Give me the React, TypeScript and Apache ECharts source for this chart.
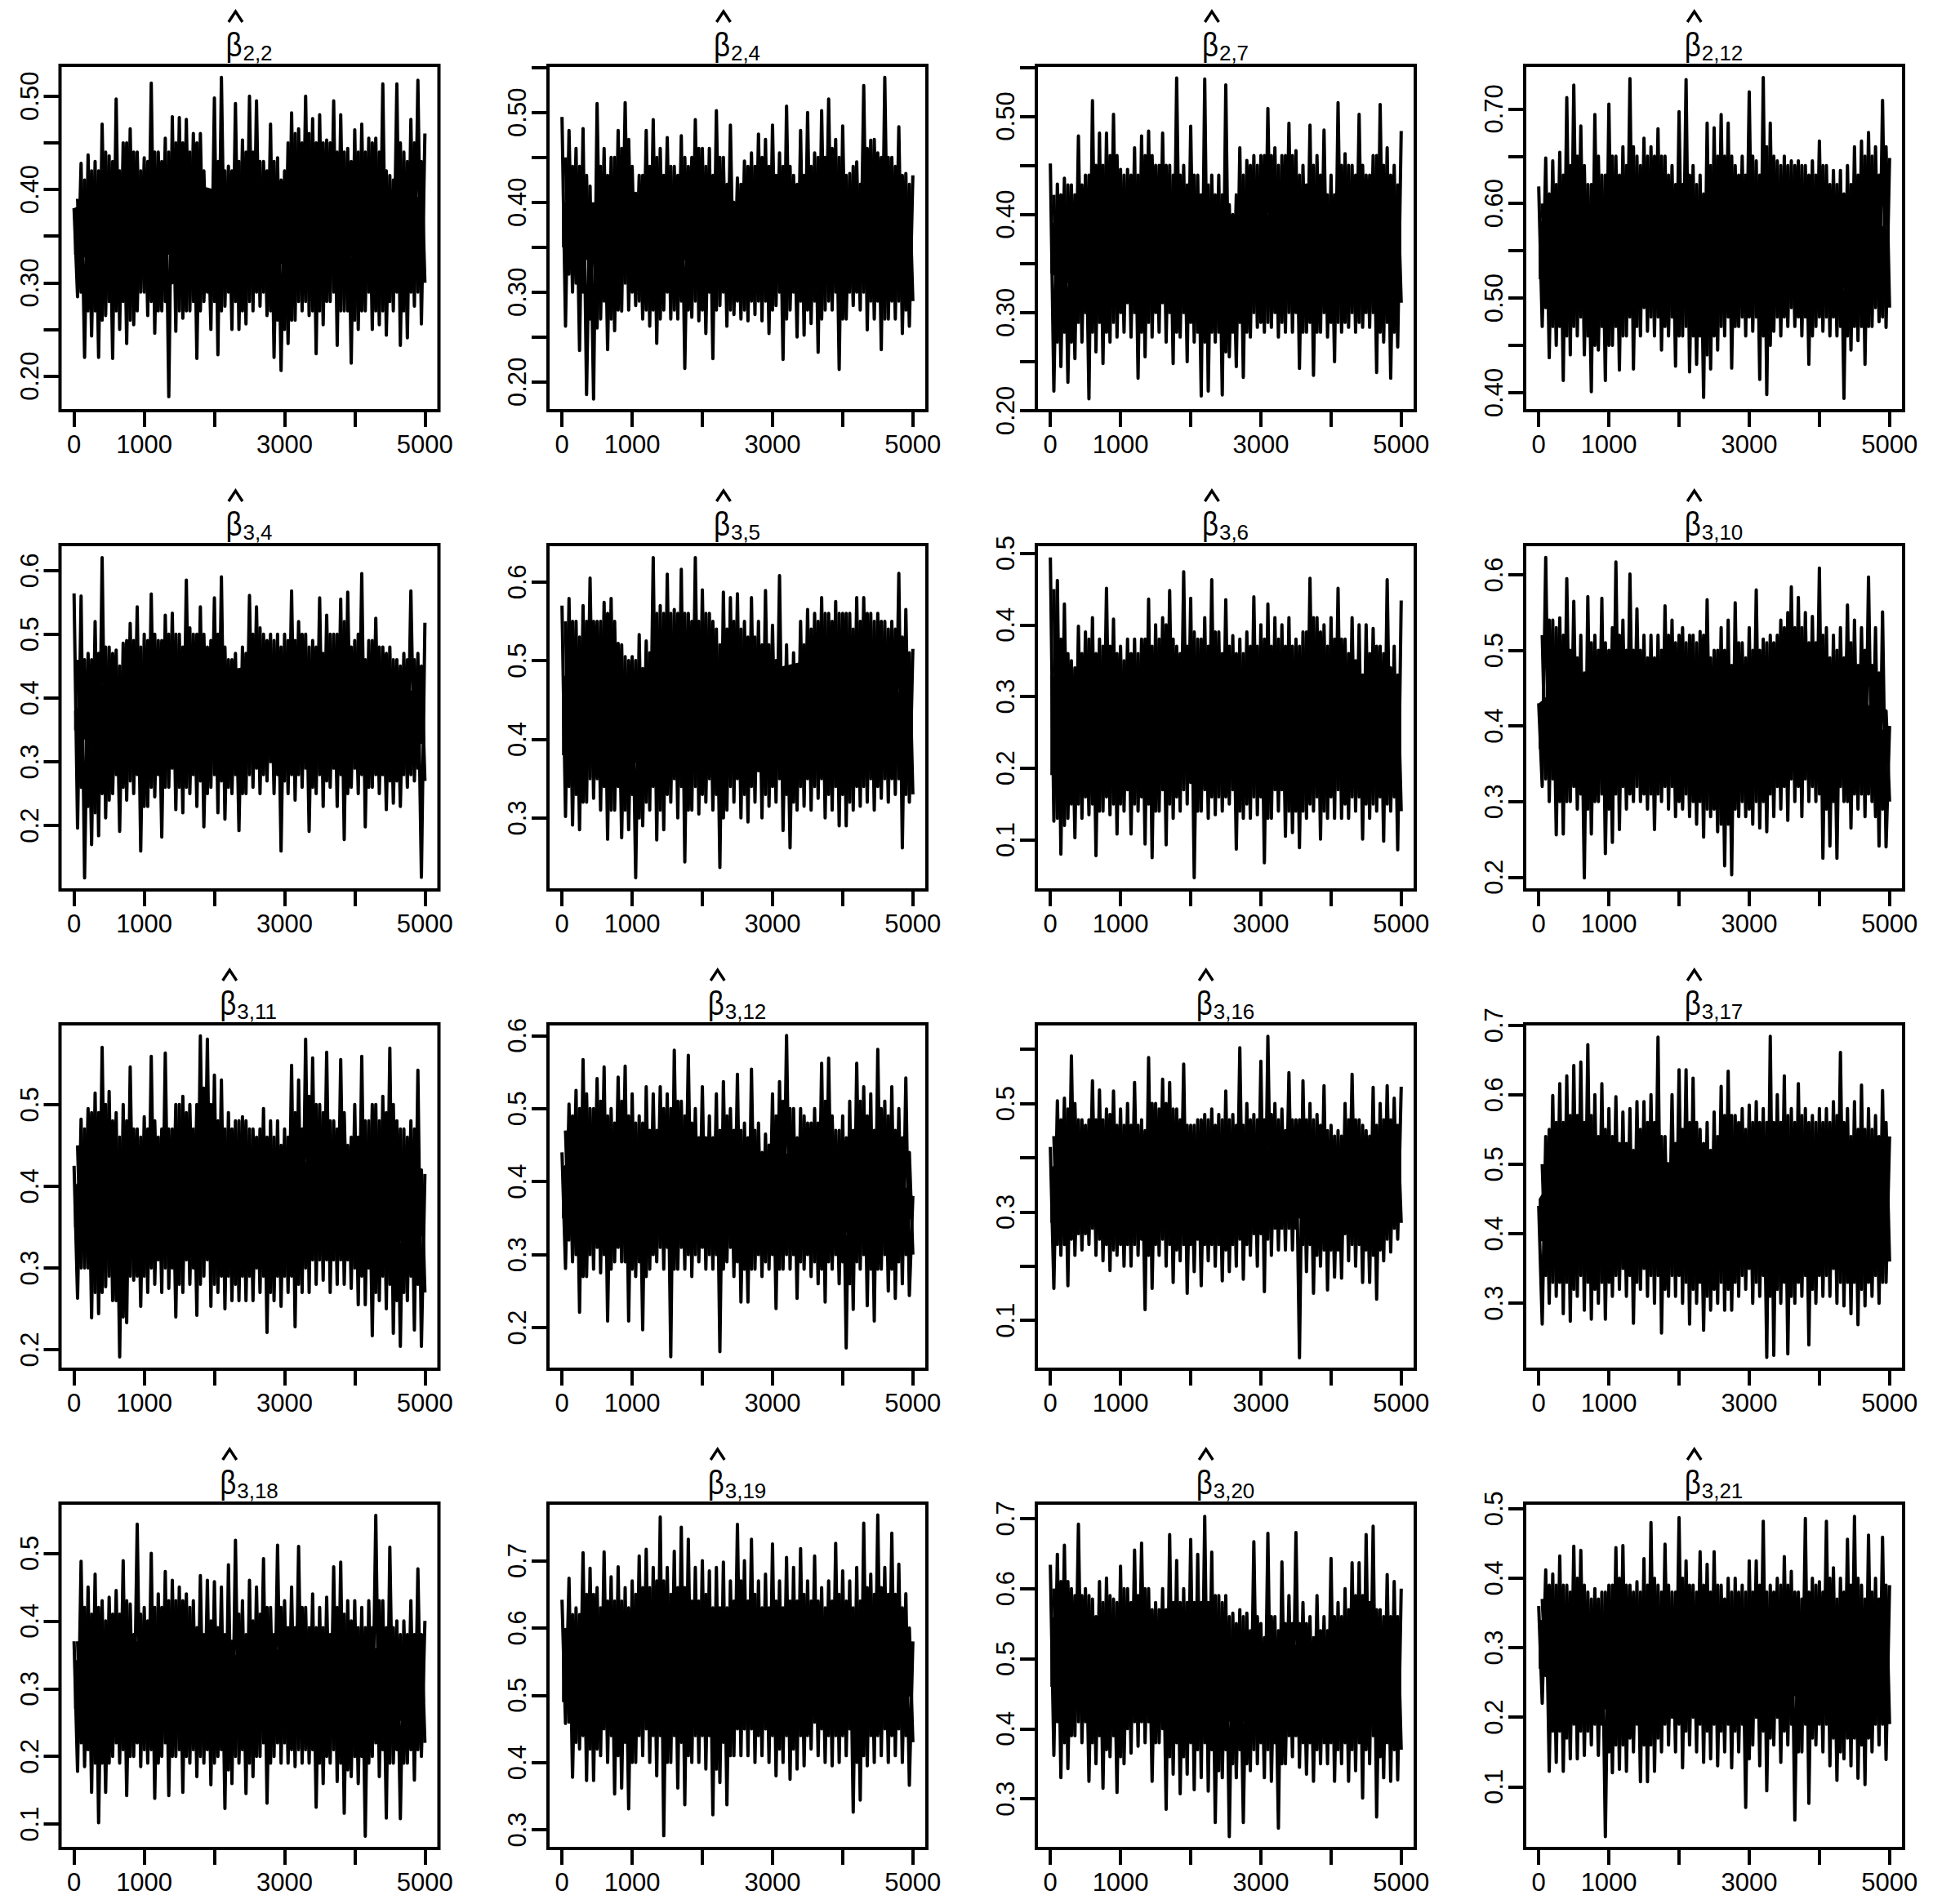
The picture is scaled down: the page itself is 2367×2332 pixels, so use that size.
import React, { useEffect, useRef } from "react";
import * as echarts from "echarts";

const FONT = '"Liberation Sans", Arial, sans-serif';
const xTicks = [0, 1000, 2000, 3000, 4000, 5000];
const xLabels = [0, 1000, 3000, 5000];
const coreX = [0, 500, 1000, 1500, 2000, 2500, 3000, 3500, 4000, 4500, 5000];

const subs = ["2,2","2,4","2,7","2,12","3,4","3,5","3,6","3,10","3,11","3,12","3,16","3,17","3,18","3,19","3,20","3,21"];

const yRanges = [[0.163,0.533],[0.168,0.5525],[0.2,0.552],[0.381,0.746],[0.099,0.6406],[0.2085,0.6475],[0.03,0.512],[0.183,0.64],[0.176,0.5988],[0.143,0.616],[0.01,0.647],[0.205,0.702],[0.064,0.574],[0.272,0.7857],[0.229,0.722],[0.011,0.508]];
const yTicks = [
  [0.2,0.25,0.3,0.35,0.4,0.45,0.5],[0.2,0.25,0.3,0.35,0.4,0.45,0.5,0.55],[0.2,0.25,0.3,0.35,0.4,0.45,0.5,0.55],[0.4,0.45,0.5,0.55,0.6,0.65,0.7],
  [0.2,0.3,0.4,0.5,0.6],[0.3,0.4,0.5,0.6],[0.1,0.2,0.3,0.4,0.5],[0.2,0.3,0.4,0.5,0.6],
  [0.2,0.3,0.4,0.5],[0.2,0.3,0.4,0.5,0.6],[0.1,0.2,0.3,0.4,0.5,0.6],[0.3,0.4,0.5,0.6,0.7],
  [0.1,0.2,0.3,0.4,0.5],[0.3,0.4,0.5,0.6,0.7],[0.3,0.4,0.5,0.6,0.7],[0.1,0.2,0.3,0.4,0.5],
];
const yLabels = [
  [0.2,0.3,0.4,0.5],[0.2,0.3,0.4,0.5],[0.2,0.3,0.4,0.5],[0.4,0.5,0.6,0.7],
  [0.2,0.3,0.4,0.5,0.6],[0.3,0.4,0.5,0.6],[0.1,0.2,0.3,0.4,0.5],[0.2,0.3,0.4,0.5,0.6],
  [0.2,0.3,0.4,0.5],[0.2,0.3,0.4,0.5,0.6],[0.1,0.3,0.5],[0.3,0.4,0.5,0.6,0.7],
  [0.1,0.2,0.3,0.4,0.5],[0.3,0.4,0.5,0.6,0.7],[0.3,0.4,0.5,0.6,0.7],[0.1,0.2,0.3,0.4,0.5],
];

// Tall spikes: peak read every 100 iterations, trough read every 100 iterations
const hiA=[.38,.428,.437,.43,.47,.436,.497,.45,.465,.44,.434,.514,.44,.455,.478,.477,.475,.46,.46,.40,.498,.52,.425,.492,.453,.50,.495,.43,.47,.434,.42,.482,.465,.50,.476,.48,.453,.495,.48,.444,.464,.47,.455,.455,.513,.415,.513,.44,.475,.517,.46];
const loA=[.285,.22,.243,.22,.265,.219,.25,.235,.255,.29,.265,.246,.27,.178,.248,.262,.27,.219,.28,.25,.223,.275,.25,.25,.256,.27,.275,.265,.22,.206,.235,.26,.27,.265,.224,.255,.28,.233,.27,.214,.25,.27,.25,.255,.244,.27,.233,.241,.275,.256];
const hiB=[.495,.48,.46,.482,.418,.51,.46,.45,.48,.511,.44,.43,.48,.492,.46,.472,.44,.474,.44,.492,.46,.46,.502,.45,.486,.427,.446,.455,.476,.47,.486,.455,.507,.43,.48,.50,.455,.502,.515,.47,.485,.432,.445,.53,.469,.455,.539,.45,.484,.432,.43];
const loB=[.262,.30,.235,.186,.181,.27,.236,.257,.279,.28,.285,.27,.262,.243,.28,.27,.27,.215,.272,.268,.254,.226,.285,.262,.275,.27,.268,.275,.268,.254,.285,.225,.28,.25,.252,.265,.233,.28,.28,.214,.27,.285,.28,.258,.27,.236,.27,.27,.254,.262];
const hiC=[.452,.431,.437,.43,.48,.44,.516,.483,.483,.502,.446,.446,.468,.48,.485,.45,.483,.45,.539,.45,.49,.44,.538,.44,.44,.532,.40,.468,.455,.46,.46,.508,.468,.46,.493,.465,.45,.491,.46,.486,.44,.514,.462,.45,.502,.44,.46,.512,.468,.45,.485];
const loC=[.22,.245,.229,.253,.27,.212,.26,.248,.27,.275,.28,.275,.233,.255,.275,.28,.27,.248,.275,.25,.27,.215,.22,.27,.216,.255,.245,.234,.275,.285,.28,.285,.275,.28,.28,.243,.28,.236,.28,.275,.25,.28,.285,.28,.285,.285,.239,.27,.233,.265];
const hiD=[.618,.648,.645,.654,.712,.725,.682,.62,.694,.63,.705,.65,.66,.732,.65,.669,.66,.679,.65,.64,.697,.731,.64,.63,.685,.68,.694,.685,.64,.65,.718,.645,.733,.685,.645,.65,.645,.645,.64,.645,.666,.64,.635,.635,.64,.66,.666,.675,.66,.709,.648];
const loD=[.47,.437,.45,.413,.44,.46,.44,.401,.445,.413,.45,.424,.46,.425,.46,.465,.46,.445,.46,.428,.46,.422,.43,.395,.425,.445,.46,.426,.47,.46,.465,.414,.398,.465,.46,.47,.47,.46,.43,.47,.465,.46,.46,.394,.445,.455,.43,.47,.475,.469];
const hiE=[.564,.56,.47,.52,.62,.48,.475,.486,.517,.543,.50,.563,.49,.53,.533,.50,.585,.50,.543,.48,.557,.59,.46,.47,.48,.561,.543,.50,.50,.50,.50,.568,.52,.50,.49,.557,.53,.50,.555,.566,.49,.595,.49,.525,.48,.48,.46,.47,.568,.47,.518];
const loE=[.196,.118,.17,.184,.212,.25,.191,.24,.25,.16,.23,.245,.182,.26,.225,.22,.25,.23,.198,.26,.22,.21,.25,.192,.25,.26,.25,.27,.25,.16,.25,.24,.26,.191,.25,.23,.26,.23,.178,.26,.25,.198,.26,.25,.225,.235,.23,.26,.27,.119];
const hiF=[.57,.579,.55,.57,.605,.55,.574,.579,.522,.505,.505,.533,.525,.631,.57,.61,.565,.616,.56,.631,.59,.56,.54,.587,.58,.585,.55,.58,.55,.589,.545,.608,.52,.51,.55,.565,.56,.58,.56,.575,.56,.56,.58,.58,.56,.56,.55,.55,.611,.565,.515];
const loF=[.302,.291,.285,.32,.325,.31,.273,.31,.275,.285,.224,.29,.31,.272,.285,.32,.30,.244,.31,.305,.32,.31,.237,.31,.32,.30,.295,.32,.30,.315,.32,.284,.262,.31,.315,.31,.325,.30,.31,.29,.29,.31,.315,.32,.31,.325,.32,.33,.262,.32];
const hiG=[.494,.462,.429,.35,.398,.39,.41,.38,.451,.408,.37,.38,.38,.38,.436,.40,.41,.448,.37,.474,.437,.38,.41,.463,.39,.435,.385,.38,.39,.439,.40,.429,.41,.40,.41,.38,.39,.465,.41,.40,.41,.451,.38,.41,.40,.40,.395,.37,.463,.37,.434];
const loG=[.126,.08,.13,.103,.13,.135,.078,.14,.135,.108,.14,.108,.14,.094,.075,.14,.093,.13,.14,.15,.047,.14,.13,.135,.14,.15,.087,.13,.13,.135,.068,.13,.14,.105,.11,.089,.13,.14,.101,.13,.13,.13,.13,.14,.101,.13,.14,.098,.14,.086];
const hiH=[.43,.623,.54,.543,.595,.565,.52,.571,.52,.569,.50,.617,.54,.601,.555,.52,.52,.52,.559,.54,.52,.51,.52,.525,.567,.50,.53,.54,.563,.51,.53,.58,.515,.52,.52,.53,.584,.57,.55,.545,.609,.53,.52,.53,.56,.54,.53,.597,.53,.551,.40];
const loH=[.32,.30,.256,.257,.30,.29,.199,.257,.30,.231,.246,.263,.29,.30,.30,.29,.263,.30,.29,.28,.29,.28,.27,.253,.28,.26,.215,.203,.28,.28,.27,.265,.26,.28,.29,.275,.30,.28,.30,.30,.225,.241,.225,.30,.265,.29,.28,.30,.241,.24];
const hiI=[.425,.482,.495,.514,.57,.516,.49,.50,.546,.47,.485,.559,.46,.563,.47,.50,.49,.47,.584,.58,.536,.53,.49,.48,.485,.47,.46,.495,.48,.48,.47,.548,.53,.58,.557,.50,.564,.48,.555,.45,.50,.559,.48,.50,.51,.569,.48,.47,.48,.542,.415];
const loI=[.263,.30,.239,.244,.277,.26,.191,.233,.285,.253,.27,.28,.27,.275,.24,.27,.28,.242,.29,.253,.27,.25,.26,.26,.26,.26,.27,.221,.26,.253,.27,.228,.27,.27,.28,.285,.27,.28,.28,.275,.255,.255,.217,.26,.25,.22,.204,.26,.224,.204];
const hiJ=[.44,.506,.525,.567,.50,.541,.557,.50,.543,.558,.52,.49,.53,.52,.53,.52,.58,.51,.573,.50,.53,.49,.52,.537,.50,.547,.48,.554,.48,.465,.52,.537,.6,.50,.50,.48,.50,.562,.569,.47,.49,.51,.562,.53,.52,.581,.51,.53,.50,.542,.38];
const loJ=[.281,.29,.221,.27,.28,.275,.209,.29,.29,.209,.27,.197,.28,.29,.28,.16,.28,.28,.27,.29,.28,.28,.167,.29,.27,.235,.235,.28,.27,.28,.226,.28,.28,.24,.28,.27,.26,.235,.28,.26,.172,.225,.28,.23,.209,.28,.25,.24,.26,.244];
const hiK=[.42,.505,.51,.588,.47,.46,.542,.525,.49,.523,.49,.50,.539,.47,.585,.50,.545,.539,.49,.573,.46,.47,.48,.49,.48,.523,.48,.603,.50,.48,.578,.624,.50,.49,.557,.47,.542,.50,.48,.533,.46,.45,.50,.554,.47,.45,.53,.50,.533,.51,.531];
const loK=[.159,.22,.164,.22,.23,.24,.22,.21,.192,.22,.20,.20,.22,.12,.159,.22,.20,.17,.21,.15,.19,.164,.21,.20,.173,.19,.20,.176,.22,.20,.153,.22,.23,.23,.23,.031,.19,.15,.20,.156,.18,.178,.21,.20,.17,.17,.139,.21,.226,.25];
const hiL=[.44,.54,.599,.616,.627,.642,.647,.672,.60,.616,.58,.597,.575,.58,.59,.59,.60,.683,.54,.60,.636,.636,.624,.55,.56,.575,.612,.634,.57,.58,.585,.59,.58,.684,.60,.627,.58,.616,.58,.57,.58,.58,.59,.661,.58,.59,.614,.58,.57,.606,.54];
const loL=[.27,.30,.31,.285,.274,.31,.29,.277,.30,.277,.31,.32,.31,.271,.32,.31,.30,.257,.31,.31,.30,.27,.30,.261,.29,.30,.29,.29,.31,.32,.30,.31,.222,.225,.30,.227,.30,.31,.24,.30,.31,.31,.30,.296,.285,.269,.296,.31,.30,.33];
const hiM=[.37,.488,.45,.469,.43,.435,.445,.489,.425,.543,.42,.50,.44,.473,.46,.45,.44,.43,.467,.46,.458,.45,.483,.519,.43,.46,.45,.492,.42,.512,.43,.45,.51,.42,.44,.42,.435,.48,.487,.43,.43,.42,.43,.556,.43,.509,.40,.40,.43,.477,.40];
const loM=[.178,.185,.147,.102,.147,.20,.19,.142,.20,.185,.19,.138,.20,.142,.20,.147,.19,.17,.19,.158,.20,.123,.16,.19,.145,.17,.20,.131,.20,.19,.19,.185,.19,.19,.125,.16,.19,.163,.116,.17,.16,.082,.20,.17,.109,.19,.108,.19,.165,.20];
const hiN=[.642,.674,.63,.712,.689,.66,.713,.676,.691,.66,.67,.707,.717,.69,.765,.69,.714,.75,.732,.69,.70,.685,.69,.698,.67,.754,.70,.732,.67,.68,.725,.67,.705,.69,.718,.67,.707,.66,.67,.726,.685,.67,.69,.756,.68,.768,.69,.741,.695,.651,.58];
const loN=[.458,.378,.42,.373,.373,.41,.40,.353,.362,.331,.40,.41,.40,.38,.291,.40,.362,.337,.40,.40,.39,.322,.37,.337,.41,.41,.41,.40,.41,.40,.38,.40,.375,.39,.395,.42,.41,.40,.395,.40,.41,.326,.344,.395,.40,.41,.40,.41,.40,.366];
const hiO=[.634,.649,.662,.60,.692,.60,.585,.61,.615,.585,.632,.60,.655,.665,.60,.58,.60,.677,.64,.60,.67,.649,.703,.652,.59,.59,.565,.57,.565,.667,.55,.679,.56,.638,.59,.68,.58,.56,.59,.56,.643,.58,.60,.637,.637,.677,.689,.57,.62,.61,.60];
const loO=[.362,.33,.343,.39,.38,.325,.35,.315,.36,.309,.35,.365,.375,.38,.325,.38,.285,.335,.307,.335,.313,.33,.311,.266,.33,.246,.33,.266,.34,.35,.33,.325,.258,.35,.36,.345,.335,.325,.35,.35,.325,.35,.325,.34,.301,.35,.274,.33,.325,.327];
const hiP=[.36,.412,.406,.432,.39,.446,.44,.38,.385,.38,.39,.444,.447,.39,.395,.428,.48,.39,.449,.38,.487,.425,.39,.438,.42,.438,.39,.40,.40,.39,.425,.425,.482,.39,.40,.431,.41,.38,.486,.40,.395,.482,.415,.40,.456,.489,.39,.462,.40,.459,.39];
const loP=[.22,.122,.135,.122,.14,.14,.145,.16,.145,.028,.12,.125,.122,.15,.107,.107,.122,.15,.16,.15,.127,.16,.15,.135,.14,.13,.15,.127,.15,.07,.16,.13,.094,.16,.135,.16,.052,.15,.076,.16,.15,.13,.109,.14,.13,.112,.103,.15,.16,.139];

// Edge of the dense band between spikes (hundredths), read every 100 iterations
const mhA=[39,41,42,42,44,43,42,45,44,42,43,44,43,44,45,45,44,45,42,39,43,42,42,43,44,44,43,42,43,41,45,46,45,46,45,45,45,44,44,43,44,44,45,44,42,41,45,43,45,43];
const mlA=[29,27,27,26,28,27,28,26,27,29,28,27,28,30,27,27,28,27,29,28,27,29,28,27,28,29,29,27,26,25,26,28,28,27,27,28,29,27,27,26,27,29,27,27,28,29,27,29,29,30];
const mhB=[45,44,44,43,39,44,43,45,46,47,41,43,44,45,43,44,43,45,45,46,44,43,45,42,40,42,44,44,45,44,43,44,44,42,43,44,45,45,46,45,43,44,42,46,47,45,45,44,43,42];
const mlB=[32,31,30,27,26,29,27,28,31,30,29,28,28,27,30,28,29,28,29,28,30,28,30,28,29,28,29,29,29,28,30,27,30,29,28,29,27,29,30,27,30,30,30,29,29,27,29,29,28,29];
const mhC=[42,42,43,42,43,44,45,45,46,46,44,44,44,46,46,45,45,44,44,43,44,42,43,42,42,41,42,44,45,45,46,46,45,46,46,44,43,45,44,42,42,45,45,44,45,44,46,45,44,43];
const mlC=[27,28,27,29,30,28,29,28,29,30,31,30,28,29,30,31,30,28,30,29,28,27,28,28,26,28,29,28,30,29,29,30,29,30,30,28,29,28,30,29,29,29,30,29,30,30,28,29,28,31];
const mhD=[60,61,62,63,64,65,64,62,65,63,65,63,64,66,64,65,65,65,63,62,62,63,62,61,64,65,65,65,63,63,65,63,66,65,64,64,64,64,63,63,64,62,62,61,62,63,65,65,63,66];
const mlD=[49,47,47,46,47,48,46,45,47,45,47,46,48,47,49,48,48,47,48,46,47,46,46,44,46,47,48,47,48,48,48,46,45,48,48,49,48,48,46,48,48,48,47,46,47,47,47,49,48,49];
const mhE=[46,46,46,47,48,47,45,49,49,48,49,50,49,50,50,48,51,50,50,49,50,48,46,44,47,50,51,49,49,48,49,49,50,48,48,47,50,50,52,48,50,46,49,48,47,46,45,46,46,45];
const mlE=[26,23,22,25,24,28,26,27,28,23,26,28,26,29,26,26,28,27,25,28,27,26,28,25,28,29,28,30,28,27,28,28,29,26,28,27,29,28,25,29,28,26,28,28,27,27,28,28,29,27];
const mhF=[55,55,53,55,55,55,56,55,52,50,50,49,51,56,56,56,56,56,55,55,56,55,52,54,55,54,53,53,52,52,50,49,47,49,52,54,55,56,55,56,56,54,55,56,55,55,54,54,53,51];
const mlF=[34,33,32,35,35,34,31,34,31,33,30,32,34,31,33,35,34,31,34,33,35,33,30,34,35,33,34,36,33,34,35,33,32,34,35,34,35,33,34,33,32,34,34,35,34,35,35,35,33,33];
const mhG=[45,38,36,34,36,38,36,37,37,36,35,36,36,38,37,38,40,38,36,37,39,38,37,39,36,37,36,36,37,37,38,37,38,37,37,37,39,41,39,37,38,38,36,35,33,36,37,36,34,33];
const mlG=[13,12,15,15,16,15,14,16,15,15,17,15,16,15,14,17,15,16,17,18,14,17,16,16,16,17,14,15,16,16,13,17,17,14,14,14,15,16,14,16,17,15,16,16,15,15,16,15,16,14];
const mhH=[52,54,53,52,50,49,47,51,50,51,53,52,50,50,50,49,49,50,52,51,53,52,51,52,49,50,50,48,51,49,50,50,51,51,54,55,53,53,51,51,52,49,50,49,51,48,50,48,47,42];
const mlH=[33,33,30,30,32,31,29,30,31,29,31,32,31,32,31,31,31,32,32,30,31,30,30,29,29,27,27,29,30,29,30,30,31,32,32,33,32,33,32,31,29,30,32,30,31,31,31,28,29,30];
const mhI=[45,47,49,49,50,48,46,48,47,46,47,48,47,47,50,51,50,50,52,50,48,47,47,48,48,47,47,46,46,45,46,49,47,51,50,49,48,47,49,46,46,48,50,48,49,50,47,46,47,42];
const mlI=[30,30,27,27,29,26,24,29,29,29,30,31,30,30,28,31,30,28,31,28,29,29,28,29,29,30,29,27,29,29,29,28,30,31,31,31,31,31,31,30,29,30,27,29,28,26,27,29,28,27];
const mhJ=[47,49,50,52,50,51,49,48,51,49,48,48,47,47,50,50,51,49,48,46,46,46,47,49,47,47,46,47,44,45,49,51,50,46,49,48,48,51,49,47,46,47,51,49,47,50,49,47,46,44];
const mlJ=[32,30,27,30,31,30,28,31,29,28,29,27,30,31,31,28,31,30,30,31,30,30,28,31,29,28,28,30,29,30,28,30,30,29,30,29,28,29,30,29,26,29,30,28,28,30,28,29,30,30];
const mhK=[44,47,49,50,47,47,47,47,48,46,46,46,46,45,50,49,50,49,47,46,46,47,47,46,47,47,46,46,47,47,47,48,47,45,47,47,47,47,46,45,44,44,47,47,46,44,46,47,47,46];
const mlK=[24,24,25,26,26,27,25,24,23,24,24,24,25,22,24,25,24,23,24,24,25,24,24,24,23,24,25,24,26,26,25,27,27,27,27,24,24,22,23,23,23,26,24,24,23,22,23,25,27,28];
const mhL=[50,55,56,56,57,57,56,57,54,55,54,53,53,52,55,56,56,54,50,53,55,56,56,53,52,54,57,57,56,55,56,56,56,56,56,57,56,57,56,56,56,56,57,56,54,55,55,55,54,56];
const mlL=[34,33,33,33,32,34,33,32,33,33,34,35,34,33,35,34,34,32,34,34,33,32,33,31,32,33,32,33,34,35,33,34,31,32,33,31,33,34,32,34,34,35,33,33,33,32,33,34,33,36];
const mhM=[37,42,41,42,40,41,41,43,38,41,40,42,42,43,43,43,42,39,38,40,39,38,37,41,38,40,41,42,38,42,39,39,42,39,39,39,38,42,41,40,39,39,39,43,39,39,38,38,38,38];
const mlM=[22,21,19,19,19,22,21,20,22,21,21,19,22,20,21,20,21,20,21,19,21,18,20,21,19,20,22,19,22,22,21,21,21,21,19,20,21,19,18,20,20,19,22,21,19,21,19,21,21,22];
const mhN=[60,62,62,65,65,63,64,64,64,63,65,66,66,67,67,65,66,66,64,64,65,63,63,63,64,67,64,65,63,63,64,63,64,64,65,64,64,63,64,65,64,63,64,66,65,66,65,65,63,60];
const mlN=[46,43,44,42,42,45,44,41,43,40,44,45,44,44,40,44,43,41,44,44,44,39,43,41,45,45,45,44,45,44,42,44,42,44,44,46,45,44,44,44,45,40,41,44,44,45,44,45,44,43];
const mhO=[60,61,61,59,59,59,56,58,59,58,60,58,59,60,57,57,57,58,58,58,58,58,58,59,58,56,55,56,54,56,53,56,54,55,55,55,55,53,54,54,56,56,57,59,59,58,57,56,56,56];
const mlO=[41,38,39,41,41,38,39,37,39,36,40,41,41,41,38,40,36,38,36,38,37,38,37,34,37,35,37,35,37,38,37,38,35,39,39,38,38,37,38,38,37,38,37,38,37,39,36,38,37,37];
const mhP=[37,39,39,39,38,40,39,37,37,38,39,40,39,38,38,39,40,38,39,38,40,39,38,39,38,39,37,38,38,38,38,39,38,38,39,39,38,37,38,39,38,40,37,38,39,40,37,38,37,39];
const mlP=[26,18,18,17,19,18,18,19,19,15,16,16,17,19,16,16,17,19,20,19,18,20,19,18,19,18,19,18,19,14,20,18,17,20,18,19,15,19,17,19,19,17,15,17,17,16,17,19,19,19];

const highs = [hiA,hiB,hiC,hiD,hiE,hiF,hiG,hiH,hiI,hiJ,hiK,hiL,hiM,hiN,hiO,hiP];
const lows = [loA,loB,loC,loD,loE,loF,loG,loH,loI,loJ,loK,loL,loM,loN,loO,loP];
const midHighs = [mhA,mhB,mhC,mhD,mhE,mhF,mhG,mhH,mhI,mhJ,mhK,mhL,mhM,mhN,mhO,mhP];
const midLows = [mlA,mlB,mlC,mlD,mlE,mlF,mlG,mlH,mlI,mlJ,mlK,mlL,mlM,mlN,mlO,mlP];

// Solid middle of each trace, read every 500 iterations
const coreHigh = [
  [.38,.40,.41,.41,.40,.40,.41,.41,.40,.40,.39],[.40,.40,.41,.41,.41,.40,.40,.41,.41,.41,.39],[.39,.41,.42,.42,.41,.40,.40,.40,.41,.41,.39],[.58,.60,.60,.61,.60,.60,.61,.60,.60,.60,.57],
  [.38,.43,.44,.45,.44,.45,.45,.44,.44,.43,.40],[.48,.49,.48,.51,.50,.48,.49,.50,.50,.49,.44],[.33,.31,.32,.32,.32,.32,.32,.32,.32,.31,.30],[.43,.47,.47,.48,.47,.48,.48,.48,.47,.46,.38],
  [.40,.44,.43,.43,.44,.43,.43,.43,.43,.43,.39],[.42,.45,.45,.44,.44,.44,.43,.45,.44,.44,.38],[.38,.44,.42,.43,.43,.42,.42,.41,.41,.41,.41],[.45,.53,.52,.51,.50,.52,.52,.53,.53,.52,.50],
  [.34,.37,.37,.36,.35,.35,.36,.37,.36,.36,.34],[.58,.60,.61,.61,.61,.60,.60,.61,.61,.61,.55],[.56,.55,.54,.54,.54,.52,.52,.52,.53,.52,.51],[.34,.34,.33,.33,.34,.33,.33,.33,.34,.34,.32],
];
const coreLow = [
  [.33,.32,.33,.33,.32,.32,.32,.32,.33,.33,.34],[.35,.33,.33,.34,.33,.33,.33,.33,.33,.33,.33],[.34,.32,.33,.33,.33,.33,.33,.33,.33,.33,.34],[.52,.51,.51,.51,.51,.50,.51,.51,.51,.51,.52],
  [.35,.30,.30,.31,.31,.31,.31,.31,.31,.31,.33],[.38,.37,.37,.37,.37,.37,.37,.37,.37,.37,.38],[.19,.20,.20,.20,.21,.21,.20,.20,.20,.21,.22],[.37,.34,.34,.34,.34,.33,.33,.34,.34,.34,.35],
  [.35,.32,.33,.33,.33,.33,.33,.33,.33,.33,.34],[.35,.33,.33,.33,.33,.33,.33,.33,.33,.33,.35],[.28,.28,.29,.29,.29,.29,.29,.29,.27,.28,.31],[.39,.38,.38,.39,.39,.38,.39,.39,.39,.38,.40],
  [.27,.25,.25,.25,.25,.25,.25,.25,.24,.24,.28],[.49,.48,.48,.48,.48,.48,.48,.48,.48,.48,.50],[.46,.42,.42,.42,.42,.41,.41,.42,.42,.42,.42],[.27,.22,.21,.22,.22,.22,.22,.23,.23,.22,.24],
];

const colLefts = [73.5, 671, 1269, 1867];
const rowTops = [80, 667, 1254, 1841];
const gridW = 464;
const gridH = 423;
const SUB_SIZE = 26;
const BETA_SIZE = 40;

function trace(i: number) {
  const out: number[][] = [];
  highs[i].forEach((h, k) => {
    out.push([k * 100, h]);
    if (k < lows[i].length) out.push([k * 100 + 50, lows[i][k]]);
  });
  return out;
}

function band(i: number) {
  const out: number[][] = [];
  midHighs[i].forEach((h, k) => {
    out.push([k * 100 + 50, h / 100]);
    if (k < midLows[i].length) out.push([k * 100 + 100, midLows[i][k] / 100]);
  });
  return out;
}

function buildOption() {
  const grid: any[] = [], xAxis: any[] = [], yAxis: any[] = [], series: any[] = [], graphic: any[] = [];
  subs.forEach((sub, i) => {
    const left = colLefts[i % 4];
    const top = rowTops[Math.floor(i / 4)];
    grid.push({ left, top, width: gridW, height: gridH, show: true, borderColor: "#000", borderWidth: 4, backgroundColor: "#fff" });
    xAxis.push({
      gridIndex: i, type: "value", min: -200, max: 5200, position: "bottom",
      axisLine: { show: false, onZero: false }, splitLine: { show: false },
      axisTick: { show: true, length: 20, lineStyle: { color: "#000", width: 4 }, customValues: xTicks },
      axisLabel: { show: true, margin: 26, color: "#000", fontFamily: FONT, fontSize: 31, hideOverlap: false, customValues: xLabels, formatter: (v: number) => String(v) },
    });
    const dec = i < 4 ? 2 : 1;
    yAxis.push({
      gridIndex: i, type: "value", min: yRanges[i][0], max: yRanges[i][1], position: "left",
      axisLine: { show: false, onZero: false }, splitLine: { show: false },
      axisTick: { show: true, length: 20, lineStyle: { color: "#000", width: 4 }, customValues: yTicks[i] },
      axisLabel: { show: true, rotate: 90, margin: 22, color: "#000", fontFamily: FONT, fontSize: 31, hideOverlap: false, customValues: yLabels[i], formatter: (v: number) => v.toFixed(dec) },
    });
    series.push({
      type: "custom", xAxisIndex: i, yAxisIndex: i, silent: true, z: 2,
      data: [[0, coreLow[i][0]]],
      renderItem: (_p: any, api: any) => {
        const upper = coreX.map((x, k) => api.coord([x, coreHigh[i][k]]));
        const lower = coreX.map((x, k) => api.coord([x, coreLow[i][k]])).reverse();
        return { type: "polygon", shape: { points: upper.concat(lower) }, style: { fill: "#000" } };
      },
    });
    series.push({
      type: "line", xAxisIndex: i, yAxisIndex: i, data: band(i), symbol: "none", showSymbol: false, silent: true, z: 3,
      lineStyle: { color: "#000", width: 4, join: "round" },
    });
    series.push({
      type: "line", xAxisIndex: i, yAxisIndex: i, data: trace(i), symbol: "none", showSymbol: false, silent: true, z: 3,
      lineStyle: { color: "#000", width: 4, join: "round" },
    });

    const cx = left + gridW / 2;
    const betaW = 20;
    const subW = sub.split("").reduce((s, c) => s + (c === "," ? 0.278 : 0.556) * SUB_SIZE, 0);
    const startX = cx - (betaW + subW) / 2;
    const hatX = startX + betaW / 2 + 1;
    graphic.push({
      type: "polyline", silent: true,
      shape: { points: [[hatX - 8.5, top - 53], [hatX, top - 66], [hatX + 8.5, top - 53]] },
      style: { stroke: "#000", lineWidth: 3.4, fill: "none" },
    });
    graphic.push({ type: "text", x: startX - 1, y: top - 5, scaleX: 0.87, silent: true, style: { text: "β", font: `${BETA_SIZE}px ${FONT}`, fill: "#000", align: "left", verticalAlign: "bottom" } });
    graphic.push({ type: "text", x: startX + betaW, y: top - 2, silent: true, style: { text: sub, font: `${SUB_SIZE}px ${FONT}`, fill: "#000", align: "left", verticalAlign: "bottom" } });
  });
  return { animation: false, backgroundColor: "#fff", grid, xAxis, yAxis, series, graphic };
}

export default function App() {
  const ref = useRef<HTMLDivElement>(null);
  useEffect(() => {
    document.body.style.margin = "0";
    const chart = echarts.init(ref.current!, undefined, { renderer: "svg" });
    chart.setOption(buildOption() as any);
    return () => chart.dispose();
  }, []);
  return <div ref={ref} style={{ width: 2367, height: 2332 }} />;
}
